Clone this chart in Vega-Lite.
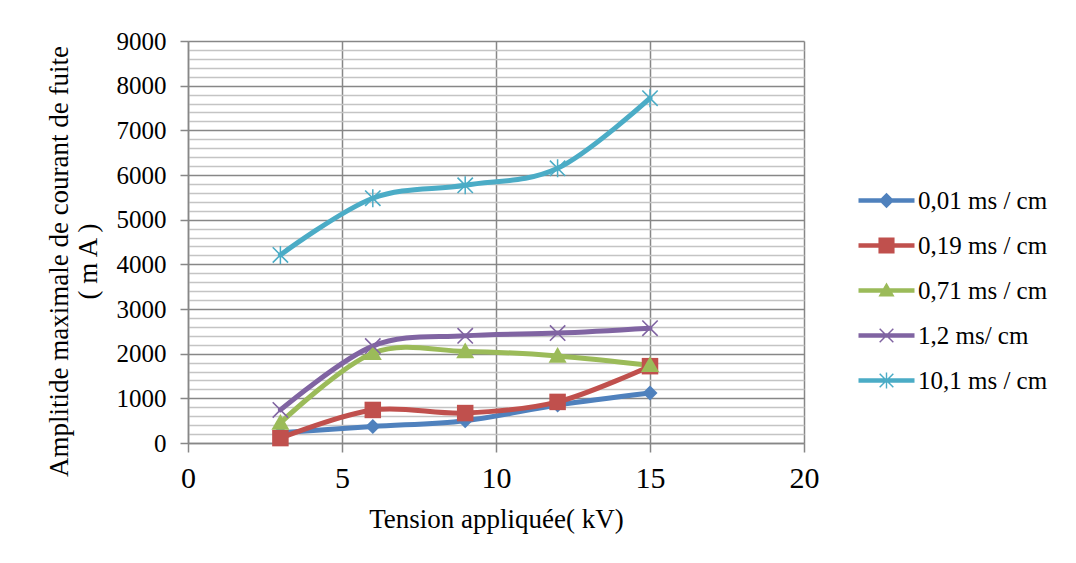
{
  "$schema": "https://vega.github.io/schema/vega-lite/v6.json",
  "width": 616,
  "height": 402,
  "autosize": {"type": "none"},
  "padding": {"left": 188, "top": 41, "right": 272, "bottom": 120},
  "background": "white",
  "data": {
    "values": [
      {"x": 3, "y": 230, "s": "0,01 ms / cm"},
      {"x": 6, "y": 370, "s": "0,01 ms / cm"},
      {"x": 9, "y": 500, "s": "0,01 ms / cm"},
      {"x": 12, "y": 850, "s": "0,01 ms / cm"},
      {"x": 15, "y": 1120, "s": "0,01 ms / cm"},
      {"x": 3, "y": 110, "s": "0,19 ms / cm"},
      {"x": 6, "y": 740, "s": "0,19 ms / cm"},
      {"x": 9, "y": 670, "s": "0,19 ms / cm"},
      {"x": 12, "y": 920, "s": "0,19 ms / cm"},
      {"x": 15, "y": 1720, "s": "0,19 ms / cm"},
      {"x": 3, "y": 450, "s": "0,71 ms / cm"},
      {"x": 6, "y": 2010, "s": "0,71 ms / cm"},
      {"x": 9, "y": 2050, "s": "0,71 ms / cm"},
      {"x": 12, "y": 1950, "s": "0,71 ms / cm"},
      {"x": 15, "y": 1740, "s": "0,71 ms / cm"},
      {"x": 3, "y": 740, "s": "1,2 ms/ cm"},
      {"x": 6, "y": 2170, "s": "1,2 ms/ cm"},
      {"x": 9, "y": 2400, "s": "1,2 ms/ cm"},
      {"x": 12, "y": 2460, "s": "1,2 ms/ cm"},
      {"x": 15, "y": 2570, "s": "1,2 ms/ cm"},
      {"x": 3, "y": 4210, "s": "10,1 ms / cm"},
      {"x": 6, "y": 5480, "s": "10,1 ms / cm"},
      {"x": 9, "y": 5770, "s": "10,1 ms / cm"},
      {"x": 12, "y": 6150, "s": "10,1 ms / cm"},
      {"x": 15, "y": 7720, "s": "10,1 ms / cm"}
    ]
  },
  "encoding": {
    "x": {
      "field": "x", "type": "quantitative",
      "scale": {"domain": [0, 20], "nice": false, "zero": false},
      "axis": {
        "values": [0, 5, 10, 15, 20],
        "grid": true, "gridColor": "#878787", "gridWidth": 1.5,
        "domainColor": "#878787", "domainWidth": 1.5,
        "tickColor": "#878787", "tickSize": 9, "tickWidth": 1.5,
        "labelFont": "Liberation Serif", "labelFontSize": 30, "labelColor": "black", "labelPadding": 11,
        "labelFlush": false, "labelOverlap": false,
        "title": "Tension appliquée( kV)",
        "titleFont": "Liberation Serif", "titleFontSize": 27, "titleFontWeight": "normal", "titleColor": "black", "titlePadding": 13
      }
    },
    "y": {
      "field": "y", "type": "quantitative",
      "scale": {"domain": [0, 9000], "nice": false},
      "axis": {
        "values": [0, 200, 400, 600, 800, 1000, 1200, 1400, 1600, 1800, 2000, 2200, 2400, 2600, 2800, 3000, 3200, 3400, 3600, 3800, 4000, 4200, 4400, 4600, 4800, 5000, 5200, 5400, 5600, 5800, 6000, 6200, 6400, 6600, 6800, 7000, 7200, 7400, 7600, 7800, 8000, 8200, 8400, 8600, 8800, 9000],
        "format": "d",
        "labelExpr": "datum.value % 1000 === 0 ? datum.label : ''",
        "labelOverlap": false, "labelFlush": false,
        "grid": true,
        "gridColor": {"condition": {"test": "datum.value % 1000 === 0", "value": "#878787"}, "value": "#C4C4C4"},
        "gridWidth": 1.5,
        "tickColor": {"condition": {"test": "datum.value % 1000 === 0", "value": "#878787"}, "value": "transparent"},
        "tickSize": 8, "tickWidth": 1.5,
        "domainColor": "#878787", "domainWidth": 1.5,
        "labelFont": "Liberation Serif", "labelFontSize": 25, "labelColor": "black", "labelPadding": 14,
        "title": ["Amplitide maximale de courant de fuite", "( m A )"],
        "titleFont": "Liberation Serif", "titleFontSize": 27, "titleFontWeight": "normal", "titleColor": "black",
        "titlePadding": 14, "titleLineHeight": 29, "titleY": 220
      }
    },
    "color": {
      "field": "s", "type": "nominal",
      "scale": {
        "domain": ["0,01 ms / cm", "0,19 ms / cm", "0,71 ms / cm", "1,2 ms/ cm", "10,1 ms / cm"],
        "range": ["#4F81BD", "#C0504D", "#9BBB59", "#8064A2", "#4BACC6"]
      },
      "legend": {
        "title": null, "orient": "none", "legendX": 686, "legendY": 147, "padding": 0,
        "symbolSize": 196, "symbolOffset": 0, "labelOffset": 19, "rowPadding": 19,
        "labelFont": "Liberation Serif", "labelFontSize": 25, "labelColor": "black", "labelLimit": 300,
        "encoding": {
          "symbols": {
            "shape": {"value": {"signal": "{'0,01 ms / cm': 'M-4,-0.32L4,-0.32L4,0.32L-4,0.32Z M0,-1.1L1.1,0L0,1.1L-1.1,0Z', '0,19 ms / cm': 'M-4,-0.32L4,-0.32L4,0.32L-4,0.32Z M-1.15,-1.15L1.15,-1.15L1.15,1.15L-1.15,1.15Z', '0,71 ms / cm': 'M-4,-0.32L4,-0.32L4,0.32L-4,0.32Z M0,-1.15L1.15,0.85L-1.15,0.85Z', '1,2 ms/ cm': 'M-4,-0.32L4,-0.32L4,0.32L-4,0.32Z M-1.05,-0.9L-0.9,-1.05L1.05,0.9L0.9,1.05Z M0.9,-1.05L1.05,-0.9L-0.9,1.05L-1.05,0.9Z', '10,1 ms / cm': 'M-4,-0.32L4,-0.32L4,0.32L-4,0.32Z M-1.05,-0.9L-0.9,-1.05L1.05,0.9L0.9,1.05Z M0.9,-1.05L1.05,-0.9L-0.9,1.05L-1.05,0.9Z M-0.1,-1.15L0.1,-1.15L0.1,1.15L-0.1,1.15Z'}[datum.value]"}},
            "fill": {"value": {"signal": "scale('color', datum.value)"}},
            "strokeWidth": {"value": 0},
            "opacity": {"value": 1},
            "size": {"value": 196}
          }
        }
      }
    }
  },
  "layer": [
    {
      "mark": {"type": "line", "interpolate": "cardinal", "strokeWidth": 5, "strokeCap": "round", "strokeJoin": "round"}
    },
    {
      "mark": {"type": "point", "filled": true, "opacity": 1, "size": 225, "strokeWidth": 0},
      "encoding": {
        "shape": {
          "field": "s", "type": "nominal",
          "scale": {
            "domain": ["10,1 ms / cm", "1,2 ms/ cm", "0,71 ms / cm", "0,19 ms / cm", "0,01 ms / cm"],
            "range": [
              "M-1.1,-0.95L-0.95,-1.1L1.1,0.95L0.95,1.1Z M0.95,-1.1L1.1,-0.95L-0.95,1.1L-1.1,0.95Z M-0.1,-1.2L0.1,-1.2L0.1,1.2L-0.1,1.2Z",
              "M-1.1,-0.95L-0.95,-1.1L1.1,0.95L0.95,1.1Z M0.95,-1.1L1.1,-0.95L-0.95,1.1L-1.1,0.95Z",
              "M0,-1.2L1.2,0.9L-1.2,0.9Z",
              "M-1.1,-1.1L1.1,-1.1L1.1,1.1L-1.1,1.1Z",
              "M0,-1L1,0L0,1L-1,0Z"
            ]
          },
          "legend": null
        }
      }
    }
  ],
  "config": {
    "view": {"stroke": null},
    "font": "Liberation Serif",
    "legend": {"labelFont": "Liberation Serif"},
    "axis": {"labelFont": "Liberation Serif", "titleFont": "Liberation Serif"}
  }
}
